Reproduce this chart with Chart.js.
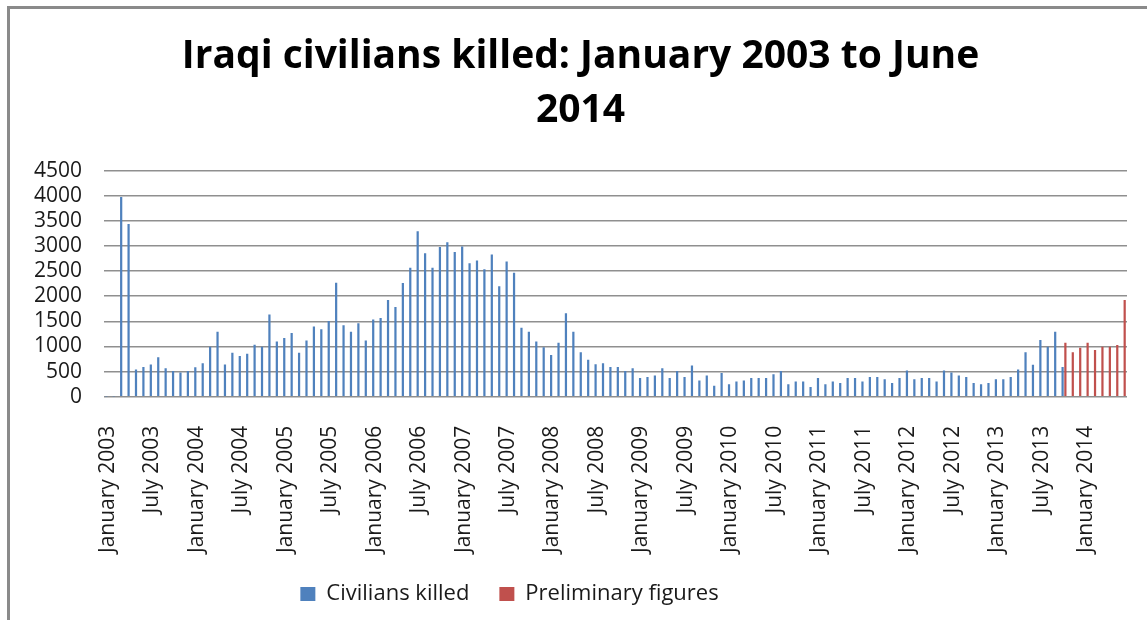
<!DOCTYPE html>
<html>
<head>
<meta charset="utf-8">
<script src="https://cdn.jsdelivr.net/npm/chart.js@4.4.1/dist/chart.umd.min.js"></script>
<style>
  body { margin: 0; background: #fff; }
  #wrap { position: relative; width: 1147px; height: 620px; }
  #frame {
    position: absolute; left: 7px; top: 6px; right: 0; bottom: 0;
    border-left: 3px solid #8a8a8a; border-top: 3px solid #8a8a8a;
    pointer-events: none;
  }
  canvas { position: absolute; left: 0; top: 0; }
</style>
</head>
<body>
<div id="wrap">
  <canvas id="chart" width="1147" height="620"></canvas>
  <div id="frame"></div>
</div>
<script>
// month names for the category axis, January 2003 .. June 2014
const monthNames = ['January', 'February', 'March', 'April', 'May', 'June',
  'July', 'August', 'September', 'October', 'November', 'December'];
const firstYear = 2003;
const monthCount = 138;

// civilians killed per month (Jan 2003 .. Oct 2013)
const civiliansKilled = [
  3, 2, 3977, 3437, 540, 590, 640, 785, 565, 510, 480, 510,          // 2003
  585, 665, 995, 1295, 640, 875, 810, 855, 1035, 995, 1635, 1100,    // 2004
  1170, 1270, 875, 1120, 1395, 1340, 1505, 2270, 1420, 1295, 1460, 1120, // 2005
  1535, 1565, 1925, 1785, 2265, 2565, 3295, 2855, 2565, 2980, 3075, 2880, // 2006
  2990, 2655, 2710, 2535, 2830, 2200, 2690, 2465, 1370, 1295, 1100, 985,  // 2007
  830, 1075, 1660, 1295, 885, 735, 645, 665, 590, 590, 510, 565,     // 2008
  370, 390, 420, 565, 370, 510, 390, 620, 320, 420, 220, 470,        // 2009
  245, 300, 320, 370, 370, 370, 445, 510, 245, 300, 300, 195,        // 2010
  370, 245, 300, 270, 370, 370, 300, 390, 390, 345, 270, 370,        // 2011
  520, 345, 370, 370, 300, 520, 480, 420, 390, 270, 245, 270,        // 2012
  345, 345, 390, 540, 885, 635, 1130, 995, 1295, 590                 // 2013 Jan-Oct
];

// preliminary figures, October 2013 .. June 2014
const prelimStart = 129;
const preliminaryFigures = [1076, 883, 976, 1076, 930, 996, 996, 1029, 1926];

const yTicks = { min: 0, max: 4500, step: 500 };

const months = [];
for (let i = 0; i < monthCount; i++) {
  months.push(monthNames[i % 12] + ' ' + (firstYear + Math.floor(i / 12)));
}
const prelimSeries = new Array(prelimStart).fill(null).concat(preliminaryFigures);

const FONT = "'Open Sans', sans-serif";

// title and legend in the original sit a bit off centre, nudge them there
const boxNudge = {
  id: 'boxNudge',
  afterLayout(chart) {
    const lg = chart.legend;
    if (lg) {
      lg.left -= 60; lg.right -= 60;
      lg.top -= 29; lg.bottom -= 29;
    }
    const tb = chart.titleBlock;
    if (tb) { tb.left += 11; tb.right += 11; }
  }
};

new Chart(document.getElementById('chart'), {
  type: 'bar',
  data: {
    labels: months,
    datasets: [
      {
        label: 'Civilians killed',
        data: civiliansKilled,
        backgroundColor: '#4f81bd',
        categoryPercentage: 0.75,
        barPercentage: 0.8
      },
      {
        label: 'Preliminary figures',
        data: prelimSeries,
        backgroundColor: '#c0504d',
        categoryPercentage: 0.75,
        barPercentage: 0.8
      }
    ]
  },
  options: {
    responsive: false,
    animation: false,
    devicePixelRatio: 1,
    layout: { padding: { left: 12, right: 20, top: 0, bottom: -24 } },
    plugins: {
      title: {
        display: true,
        text: ['Iraqi civilians killed: January 2003 to June', '2014'],
        color: '#000',
        font: { family: FONT, size: 39, weight: 'bold', lineHeight: 1.38 },
        padding: { top: 30, bottom: 33 }
      },
      legend: {
        position: 'bottom',
        labels: {
          color: '#1a1a1a',
          font: { family: FONT, size: 22 },
          boxWidth: 15,
          boxHeight: 14,
          padding: 30
        }
      },
      tooltip: { enabled: false }
    },
    scales: {
      x: {
        grid: { display: false, drawTicks: false },
        border: { display: false },
        ticks: {
          autoSkip: false,
          minRotation: 90,
          maxRotation: 90,
          padding: 29,
          color: '#1a1a1a',
          font: { family: FONT, size: 21 },
          callback: function (value, index) {
            return index % 6 === 0 ? this.getLabelForValue(value) : null;
          }
        }
      },
      y: {
        min: yTicks.min,
        max: yTicks.max,
        grid: { color: '#8f8f8f', lineWidth: 1.5, drawTicks: false },
        border: { display: false },
        ticks: {
          stepSize: yTicks.step,
          autoSkip: false,
          padding: 22,
          color: '#1a1a1a',
          font: { family: FONT, size: 21 },
          callback: (v) => String(v)
        }
      }
    }
  },
  plugins: [boxNudge]
});
</script>
</body>
</html>
